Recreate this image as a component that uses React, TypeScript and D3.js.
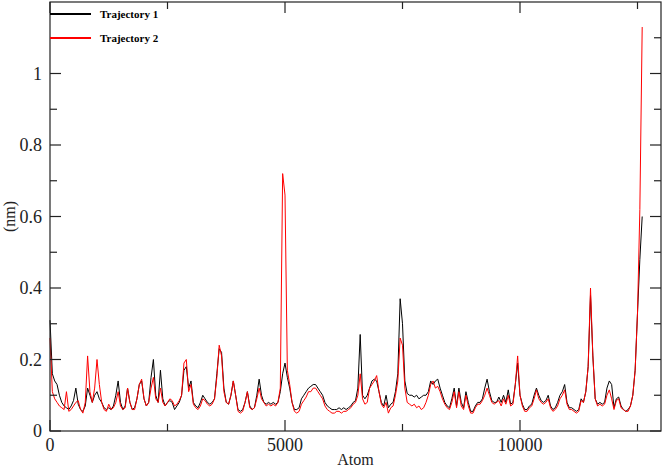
import * as d3 from 'd3';

const WIDTH = 664;
const HEIGHT = 468;
const MARGIN = { top: 2, right: 3, bottom: 37, left: 50 };

// sampled every 50 atoms, starting at atom 0
const ATOM_STEP = 50;

const trajectory1 = [
  0.31, 0.16, 0.14, 0.13, 0.10, 0.08, 0.07, 0.065, 0.06, 0.07, 0.085, 0.12, 0.075, 0.06, 0.055, 0.07, 0.12, 0.10, 0.08, 0.10, 0.11,
  0.09, 0.08, 0.065, 0.06, 0.065, 0.06, 0.07, 0.10, 0.14, 0.08, 0.06, 0.07, 0.12, 0.08, 0.06, 0.065, 0.09, 0.13, 0.14, 0.09,
  0.07, 0.08, 0.15, 0.20, 0.10, 0.08, 0.17, 0.09, 0.07, 0.08, 0.085, 0.08, 0.06, 0.07, 0.08, 0.10, 0.17, 0.18, 0.12, 0.14,
  0.08, 0.07, 0.065, 0.08, 0.10, 0.09, 0.08, 0.075, 0.08, 0.09, 0.16, 0.23, 0.22, 0.12, 0.08, 0.075, 0.10, 0.14, 0.10, 0.06,
  0.055, 0.06, 0.08, 0.11, 0.07, 0.06, 0.065, 0.10, 0.145, 0.10, 0.08, 0.075, 0.08, 0.075, 0.08, 0.075, 0.08, 0.11, 0.16, 0.19,
  0.15, 0.12, 0.08, 0.06, 0.06, 0.065, 0.09, 0.10, 0.11, 0.12, 0.125, 0.13, 0.13, 0.12, 0.11, 0.10, 0.08, 0.07, 0.065, 0.06,
  0.06, 0.06, 0.065, 0.06, 0.065, 0.06, 0.065, 0.07, 0.08, 0.085, 0.12, 0.27, 0.10, 0.09, 0.10, 0.12, 0.14, 0.145, 0.14, 0.11,
  0.08, 0.07, 0.10, 0.065, 0.075, 0.08, 0.11, 0.16, 0.37, 0.30, 0.14, 0.105, 0.10, 0.10, 0.095, 0.10, 0.09, 0.095, 0.10, 0.10,
  0.11, 0.14, 0.13, 0.14, 0.145, 0.12, 0.10, 0.08, 0.07, 0.065, 0.09, 0.12, 0.07, 0.12, 0.08, 0.065, 0.11, 0.08, 0.055, 0.055,
  0.07, 0.08, 0.08, 0.09, 0.12, 0.145, 0.11, 0.085, 0.08, 0.08, 0.095, 0.08, 0.10, 0.08, 0.115, 0.075, 0.08, 0.13, 0.19, 0.10,
  0.075, 0.06, 0.06, 0.07, 0.075, 0.10, 0.12, 0.10, 0.085, 0.08, 0.085, 0.10, 0.07, 0.06, 0.065, 0.08, 0.10, 0.11, 0.13, 0.08,
  0.065, 0.065, 0.06, 0.055, 0.06, 0.09, 0.08, 0.11, 0.18, 0.38, 0.21, 0.09, 0.075, 0.08, 0.075, 0.08, 0.12, 0.14, 0.13, 0.065,
  0.09, 0.095, 0.07, 0.06, 0.055, 0.06, 0.07, 0.10, 0.17, 0.33, 0.48, 0.60,
];

const trajectory2 = [
  0.26, 0.11, 0.09, 0.08, 0.07, 0.065, 0.06, 0.11, 0.055, 0.06, 0.07, 0.08, 0.085, 0.06, 0.05, 0.08, 0.21, 0.11, 0.08, 0.12, 0.20,
  0.13, 0.08, 0.06, 0.055, 0.075, 0.06, 0.065, 0.08, 0.11, 0.07, 0.06, 0.065, 0.12, 0.08, 0.06, 0.06, 0.09, 0.13, 0.145, 0.09,
  0.07, 0.08, 0.12, 0.15, 0.09, 0.08, 0.12, 0.08, 0.07, 0.08, 0.09, 0.085, 0.07, 0.075, 0.085, 0.10, 0.19, 0.20, 0.11, 0.13,
  0.075, 0.065, 0.06, 0.07, 0.09, 0.085, 0.075, 0.07, 0.075, 0.09, 0.15, 0.24, 0.21, 0.11, 0.08, 0.075, 0.10, 0.14, 0.10, 0.055,
  0.05, 0.055, 0.08, 0.11, 0.065, 0.06, 0.065, 0.09, 0.12, 0.09, 0.08, 0.07, 0.075, 0.07, 0.075, 0.07, 0.08, 0.12, 0.72, 0.66,
  0.17, 0.13, 0.08, 0.055, 0.05, 0.055, 0.075, 0.085, 0.095, 0.11, 0.11, 0.12, 0.12, 0.11, 0.10, 0.09, 0.07, 0.06, 0.055, 0.05,
  0.05, 0.055, 0.055, 0.05, 0.055, 0.055, 0.06, 0.065, 0.075, 0.08, 0.10, 0.16, 0.09, 0.075, 0.08, 0.12, 0.13, 0.14, 0.155, 0.11,
  0.075, 0.065, 0.08, 0.05, 0.065, 0.07, 0.10, 0.14, 0.26, 0.24, 0.12, 0.08, 0.075, 0.07, 0.075, 0.065, 0.07, 0.06, 0.065, 0.08,
  0.10, 0.13, 0.14, 0.12, 0.125, 0.11, 0.09, 0.075, 0.065, 0.06, 0.08, 0.11, 0.065, 0.11, 0.07, 0.06, 0.10, 0.07, 0.05, 0.05,
  0.065, 0.075, 0.075, 0.085, 0.10, 0.12, 0.10, 0.08, 0.075, 0.08, 0.085, 0.07, 0.09, 0.075, 0.10, 0.07, 0.075, 0.13, 0.21, 0.10,
  0.07, 0.055, 0.055, 0.065, 0.07, 0.09, 0.115, 0.09, 0.08, 0.075, 0.08, 0.09, 0.065, 0.055, 0.06, 0.07, 0.09, 0.10, 0.115, 0.075,
  0.06, 0.06, 0.055, 0.05, 0.055, 0.085, 0.08, 0.11, 0.18, 0.40, 0.21, 0.09, 0.07, 0.075, 0.07, 0.075, 0.10, 0.115, 0.09, 0.06,
  0.085, 0.09, 0.065, 0.06, 0.055, 0.055, 0.07, 0.10, 0.17, 0.33, 0.62, 1.13,
];

const xMajorTicks = [0, 5000, 10000];
const xMinorTicks = [2500, 7500, 12500];
const yMajorTicks = [0, 0.2, 0.4, 0.6, 0.8, 1];
const yMinorTicks = [0.1, 0.3, 0.5, 0.7, 0.9, 1.1];

const series = [
  { label: 'Trajectory 1', color: '#000000', values: trajectory1 },
  { label: 'Trajectory 2', color: '#ff0000', values: trajectory2 },
];

const FONT = '"Liberation Serif", "Times New Roman", serif';

export default function App() {
  const w = WIDTH - MARGIN.left - MARGIN.right;
  const h = HEIGHT - MARGIN.top - MARGIN.bottom;

  const x = d3.scaleLinear().domain([0, 13000]).range([0, w]);
  const y = d3.scaleLinear().domain([0, 1.2]).range([h, 0]);

  const line = d3.line<number>()
    .x((_, i) => x(i * ATOM_STEP))
    .y(d => y(d));

  const MAJOR = 11;
  const MINOR = 7;

  return (
    <svg width={WIDTH} height={HEIGHT}
      style={{ position: 'absolute', left: 0, top: 0, background: '#fff' }}>
      <g transform={`translate(${MARGIN.left},${MARGIN.top})`}>
        {/* data lines */}
        {series.map(s => (
          <path key={s.label} d={line(s.values) || ''} fill="none"
            stroke={s.color} strokeWidth={1} strokeLinejoin="round" />
        ))}

        {/* frame */}
        <rect x={0} y={0} width={w} height={h} fill="none" stroke="#222" strokeWidth={1.2} />

        {/* x ticks, bottom and top, pointing inward */}
        {xMajorTicks.concat(xMinorTicks).map(t => {
          const len = xMajorTicks.includes(t) ? MAJOR : MINOR;
          return (
            <g key={`x${t}`} stroke="#222" strokeWidth={1.2}>
              <line x1={x(t)} x2={x(t)} y1={h} y2={h - len} />
              <line x1={x(t)} x2={x(t)} y1={0} y2={len} />
            </g>
          );
        })}
        {xMajorTicks.map(t => (
          <text key={`xl${t}`} x={x(t)} y={h + 20} textAnchor="middle"
            fontFamily={FONT} fontSize={18} fill="#222">{t}</text>
        ))}

        {/* y ticks, left and right */}
        {yMajorTicks.concat(yMinorTicks).map(t => {
          const len = yMajorTicks.includes(t) ? MAJOR : MINOR;
          return (
            <g key={`y${t}`} stroke="#222" strokeWidth={1.2}>
              <line x1={0} x2={len} y1={y(t)} y2={y(t)} />
              <line x1={w} x2={w - len} y1={y(t)} y2={y(t)} />
            </g>
          );
        })}
        {yMajorTicks.map(t => (
          <text key={`yl${t}`} x={-8} y={y(t) + 6} textAnchor="end"
            fontFamily={FONT} fontSize={18} fill="#222">{t}</text>
        ))}

        {/* axis titles */}
        <text x={w / 2} y={h + 34} textAnchor="middle"
          fontFamily={FONT} fontSize={16} fill="#222">Atom</text>
        <text transform={`translate(${-35},${h / 2}) rotate(-90)`} textAnchor="middle"
          fontFamily={FONT} fontSize={16} fill="#222">(nm)</text>

        {/* legend */}
        {series.map((s, i) => (
          <g key={`lg${s.label}`} transform={`translate(0,${12 + i * 24})`}>
            <line x1={0} x2={41} y1={0} y2={0} stroke={s.color} strokeWidth={2} />
            <text x={50} y={4} fontFamily={FONT} fontSize={11} fontWeight="bold" fill="#000">
              {s.label}
            </text>
          </g>
        ))}
      </g>
    </svg>
  );
}
